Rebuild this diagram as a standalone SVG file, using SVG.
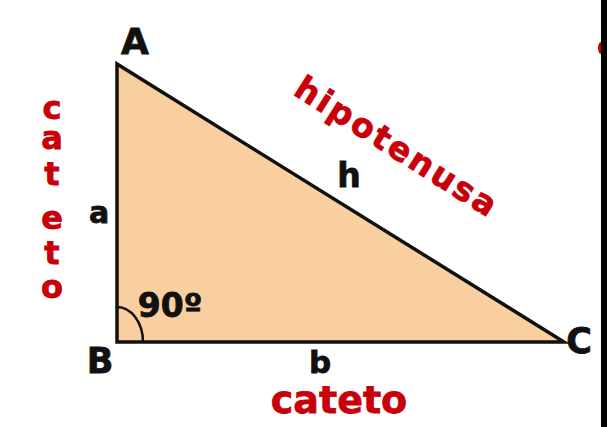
<svg xmlns="http://www.w3.org/2000/svg" width="607" height="427" viewBox="0 0 607 427">
<style>
.lbl{font-family:"DejaVu Sans",Verdana,sans-serif;font-weight:bold;fill:#111;stroke:#111;stroke-width:0.8}
.red{font-family:"DejaVu Sans",Verdana,sans-serif;font-weight:bold;fill:#C8000A;stroke:#C8000A;stroke-width:0.8}
</style>
<rect width="607" height="427" fill="#ffffff"/>
<g id="triangle">
<polygon points="117,64 117,342 564,342" fill="#F9CF9F" stroke="#111" stroke-width="3.5" stroke-linejoin="miter"/>
<path d="M117,307 A26,35 0 0 1 143,342" fill="none" stroke="#111" stroke-width="2.5"/>
</g>
<g id="labels">
<text class="lbl" x="135" y="54" font-size="36" text-anchor="middle">A</text>
<text class="lbl" x="100" y="373" font-size="35" text-anchor="middle">B</text>
<text class="lbl" x="579" y="353" font-size="35" text-anchor="middle">C</text>
<text class="lbl" x="99" y="223" font-size="30" text-anchor="middle">a</text>
<text class="lbl" x="320" y="373" font-size="31" text-anchor="middle">b</text>
<text class="lbl" x="349" y="187" font-size="33" text-anchor="middle">h</text>
<text class="lbl" x="170" y="317" font-size="33" text-anchor="middle">90º</text>
</g>
<g id="hipotenusa">
<text class="red" font-size="33" letter-spacing="2.6" transform="translate(292,94) rotate(32.3)">hipotenusa</text>
</g>
<g id="cateto-vertical">
<text class="red" font-size="32" text-anchor="middle"><tspan x="52" y="119">c</tspan><tspan x="52" y="149">a</tspan><tspan x="52" y="185">t</tspan><tspan x="52" y="229">e</tspan><tspan x="52" y="264">t</tspan><tspan x="52" y="298">o</tspan></text>
</g>
<g id="cateto-bottom">
<text class="red" x="339" y="413" font-size="38" text-anchor="middle">cateto</text>
</g>
<g id="edge">
<ellipse cx="601" cy="48" rx="3" ry="6" fill="#C8000A"/>
<rect x="601" y="0" width="6" height="427" fill="#000"/>
</g>
</svg>
